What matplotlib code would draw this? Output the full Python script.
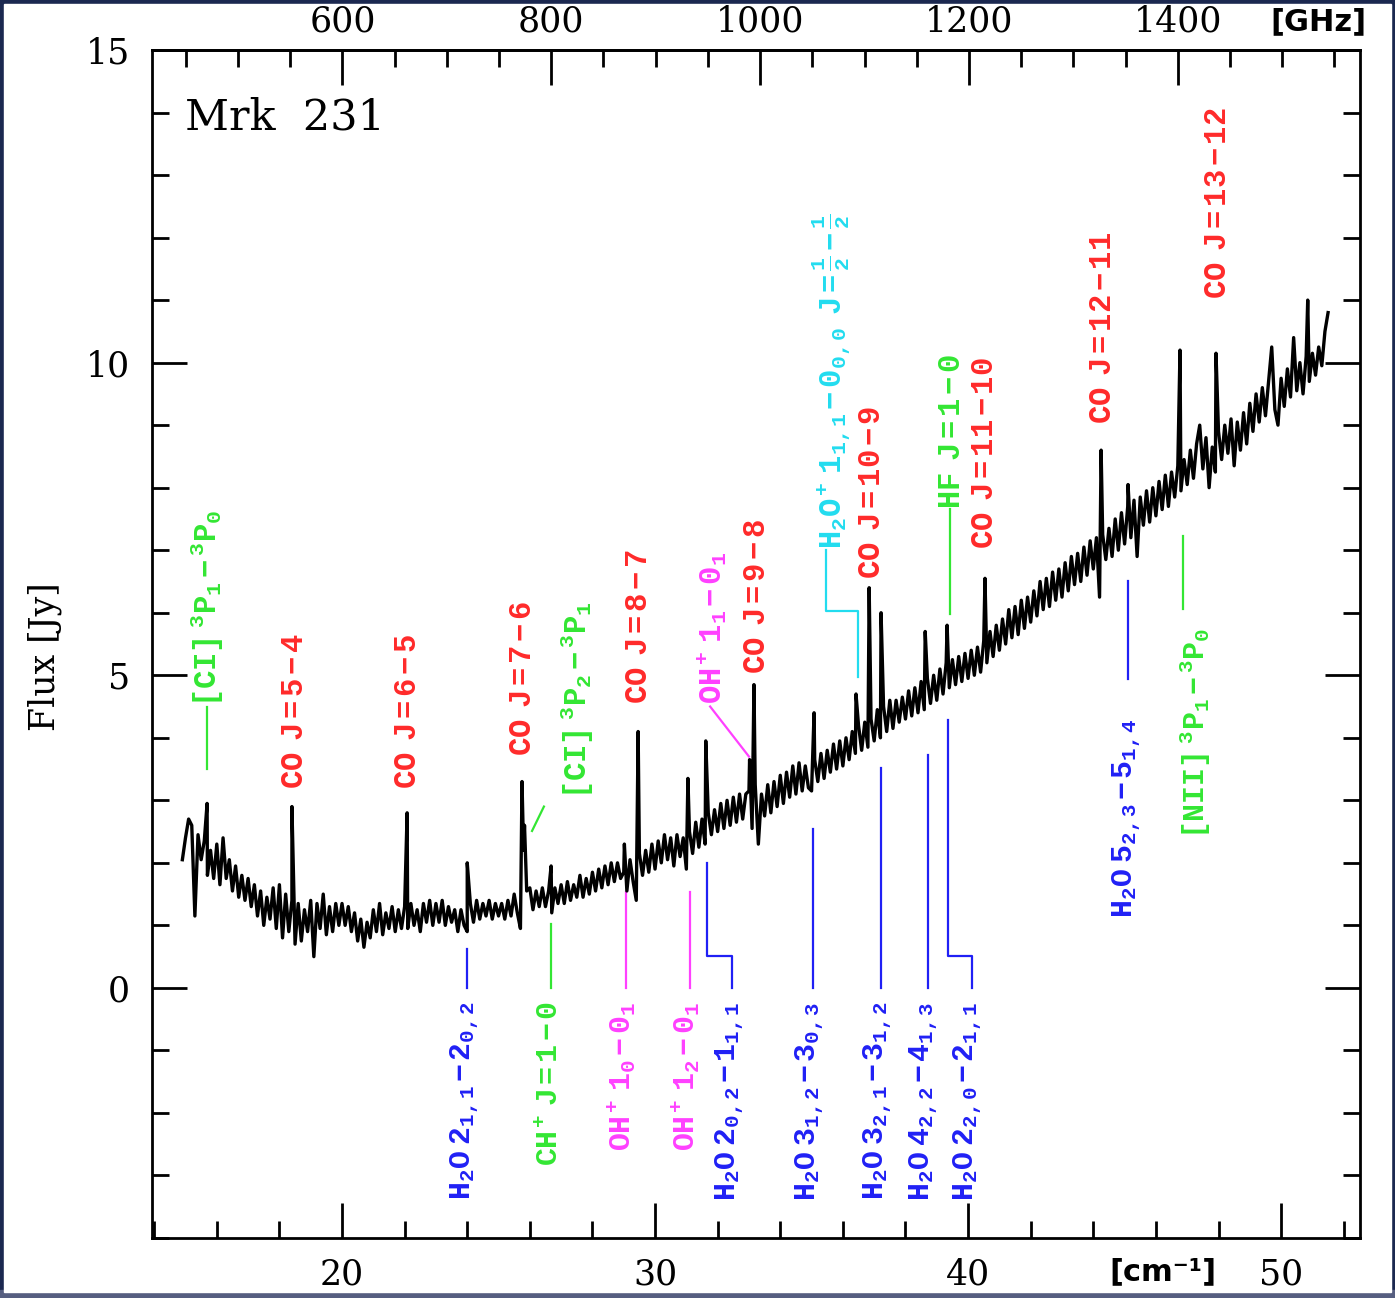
import numpy as np
import matplotlib
matplotlib.use("Agg")
import matplotlib.pyplot as plt
from matplotlib.patches import Rectangle
from matplotlib.ticker import MultipleLocator, FixedLocator

plt.rcParams["font.family"] = "DejaVu Serif"
plt.rcParams["mathtext.fontset"] = "custom"
plt.rcParams["mathtext.rm"] = "Liberation Mono:bold"
plt.rcParams["mathtext.it"] = "Liberation Mono:bold"
plt.rcParams["mathtext.bf"] = "Liberation Mono:bold"

# spectrum, Jy, one value every 0.1 cm^-1 from 14.9 cm^-1
flux_start, flux_step = 14.9, 0.1
flux = (
    [2.05]
    + [2.4, 2.7, 2.6, 1.15, 2.45, 2.05, 2.35, 1.8, 2.2, 1.75]
    + [2.3, 1.65, 2.4, 1.75, 2.05, 1.55, 1.95, 1.45, 1.8, 1.4]
    + [1.75, 1.3, 1.65, 1.15, 1.55, 1.0, 1.45, 1.1, 1.6, 0.95]
    + [1.65, 0.8, 1.5, 0.9, 1.4, 0.7, 1.35, 0.75, 1.25, 0.9]
    + [1.4, 0.5, 1.35, 0.95, 1.5, 0.85, 1.3, 0.9, 1.35, 1.0]
    + [1.35, 1.0, 1.3, 0.9, 1.2, 0.75, 1.1, 0.65, 1.05, 0.8]
    + [1.25, 0.9, 1.35, 0.85, 1.2, 0.95, 1.3, 0.9, 1.25, 0.95]
    + [1.3, 0.95, 1.35, 1.0, 1.25, 0.9, 1.35, 1.05, 1.4, 1.0]
    + [1.35, 1.05, 1.4, 1.0, 1.3, 1.05, 1.25, 0.9, 1.25, 1.0]
    + [0.9, 1.35, 1.05, 1.4, 1.1, 1.35, 1.15, 1.4, 1.1, 1.35]
    + [1.15, 1.35, 1.1, 1.4, 1.15, 1.5, 1.2, 0.95, 2.2, 1.55]
    + [1.6, 1.25, 1.55, 1.3, 1.6, 1.3, 1.55, 1.2, 1.6, 1.35]
    + [1.65, 1.35, 1.7, 1.4, 1.65, 1.45, 1.8, 1.45, 1.75, 1.5]
    + [1.85, 1.55, 1.9, 1.6, 1.95, 1.65, 2.0, 1.7, 2.0, 1.75]
    + [1.85, 1.55, 2.05, 1.7, 1.4, 2.15, 1.8, 2.2, 1.85, 2.3]
    + [1.9, 2.35, 2.0, 2.45, 2.05, 2.4, 1.95, 2.45, 2.1, 2.4]
    + [1.9, 2.5, 2.15, 2.65, 2.25, 2.7, 2.3, 2.8, 2.45, 2.85]
    + [2.5, 2.95, 2.55, 3.0, 2.6, 3.05, 2.65, 3.1, 2.7, 3.1]
    + [3.15, 2.55, 3.25, 2.3, 3.1, 2.75, 3.25, 2.8, 3.3, 2.9]
    + [3.4, 2.95, 3.45, 3.05, 3.55, 3.1, 3.6, 3.15, 3.55, 3.2]
    + [3.15, 3.65, 3.3, 3.75, 3.35, 3.8, 3.45, 3.9, 3.5, 3.95]
    + [3.55, 4.0, 3.65, 4.1, 3.75, 4.2, 3.8, 4.25, 3.85, 4.3]
    + [3.95, 4.45, 4.0, 4.5, 4.1, 4.6, 4.15, 4.6, 4.25, 4.65]
    + [4.3, 4.75, 4.35, 4.8, 4.4, 4.9, 4.45, 4.95, 4.55, 5.0]
    + [4.6, 5.1, 4.7, 5.2, 4.8, 5.25, 4.85, 5.3, 4.9, 5.35]
    + [4.95, 5.4, 5.0, 5.45, 5.05, 5.55, 5.2, 5.7, 5.3, 5.8]
    + [5.4, 5.9, 5.5, 6.05, 5.6, 6.1, 5.65, 6.2, 5.75, 6.25]
    + [5.85, 6.35, 5.95, 6.5, 6.05, 6.55, 6.1, 6.65, 6.2, 6.7]
    + [6.25, 6.8, 6.35, 6.9, 6.45, 6.95, 6.5, 7.05, 6.6, 7.15]
    + [6.7, 7.2, 6.25, 7.25, 6.85, 7.35, 6.9, 7.5, 7.0, 7.6]
    + [7.1, 7.7, 7.2, 7.8, 6.9, 7.85, 7.4, 7.95, 7.45, 8.0]
    + [7.55, 8.1, 7.65, 8.2, 7.7, 8.25, 7.85, 8.35, 7.95, 8.45]
    + [8.05, 8.6, 8.15, 8.7, 9.0, 8.3, 8.8, 8.0, 8.65, 8.25]
    + [8.9, 8.45, 9.0, 8.55, 9.1, 8.35, 9.05, 8.6, 9.2, 8.7]
    + [9.35, 8.9, 9.5, 9.05, 9.6, 9.15, 9.7, 10.25, 9.25, 9.0]
    + [9.75, 9.3, 9.9, 9.45, 10.4, 9.55, 10.0, 9.5, 10.1, 9.7]
    + [10.15, 9.8, 10.25, 9.95, 10.5, 10.8]
)

# narrow emission lines on top of the continuum
line_x = [15.69, 18.40, 22.08, 24.00, 25.75, 25.83, 26.68, 29.02, 29.46,
          31.05, 31.62, 33.02, 33.16, 35.08, 36.42, 36.84, 37.22, 38.63,
          39.33, 40.54, 44.25, 45.11, 46.77, 47.92, 50.85]
line_peak = [2.95, 2.9, 2.8, 2.0, 3.3, 2.6, 1.95, 2.3, 4.1,
             3.35, 3.95, 3.65, 4.85, 4.4, 4.7, 6.4, 6.0, 5.7,
             5.8, 6.55, 8.6, 8.05, 10.2, 10.15, 11.0]

RED, GREEN, BLUE = "#ff2a2a", "#33e633", "#2020f5"
MAGENTA, CYAN = "#ff40ff", "#22dcef"

# labels above the spectrum (text bottom at y)
upper_text = [
    r"$\mathrm{[CI]\ {}^3P_1-{}^3P_0}$",
    r"$\mathrm{CO\ \ J=5-4}$",
    r"$\mathrm{CO\ \ J=6-5}$",
    r"$\mathrm{CO\ \ J=7-6}$",
    r"$\mathrm{[CI]\ {}^3P_2-{}^3P_1}$",
    r"$\mathrm{CO\ \ J=8-7}$",
    r"$\mathrm{OH^+\ 1_1-0_1}$",
    r"$\mathrm{CO\ \ J=9-8}$",
    r"$\mathrm{H_2O^+\ 1_{1,1}-0_{0,0}\ \ J=\frac{1}{2}-\frac{1}{2}}$",
    r"$\mathrm{CO\ \ J=10-9}$",
    r"$\mathrm{HF\ \ J=1-0}$",
    r"$\mathrm{CO\ \ J=11-10}$",
    r"$\mathrm{CO\ \ J=12-11}$",
    r"$\mathrm{CO\ \ J=13-12}$",
]
upper_x = [15.69, 18.47, 22.10, 25.75, 27.50, 29.46, 31.82, 33.23, 35.60,
           36.93, 39.46, 40.54, 44.31, 47.96]
upper_y = [4.5, 3.18, 3.18, 3.71, 3.02, 4.54, 4.54, 5.02, 7.02,
           6.54, 7.66, 7.02, 9.02, 11.02]
upper_color = [GREEN, RED, RED, RED, GREEN, RED, MAGENTA, RED, CYAN,
               RED, GREEN, RED, RED, RED]

# labels below the spectrum (text top at y)
lower_text = [
    r"$\mathrm{H_2O\ 2_{1,1}-2_{0,2}}$",
    r"$\mathrm{CH^+\ J=1-0}$",
    r"$\mathrm{OH^+\ 1_0-0_1}$",
    r"$\mathrm{OH^+\ 1_2-0_1}$",
    r"$\mathrm{H_2O\ 2_{0,2}-1_{1,1}}$",
    r"$\mathrm{H_2O\ 3_{1,2}-3_{0,3}}$",
    r"$\mathrm{H_2O\ 3_{2,1}-3_{1,2}}$",
    r"$\mathrm{H_2O\ 4_{2,2}-4_{1,3}}$",
    r"$\mathrm{H_2O\ 2_{2,0}-2_{1,1}}$",
    r"$\mathrm{H_2O\ 5_{2,3}-5_{1,4}}$",
    r"$\mathrm{[NII]\ {}^3P_1-{}^3P_0}$",
]
lower_x = [23.95, 26.65, 28.95, 30.99, 32.40, 34.95, 37.12, 38.60, 40.00,
           45.08, 47.25]
lower_y = [-0.22, -0.22, -0.22, -0.22, -0.22, -0.22, -0.22, -0.22, -0.22,
           4.3, 5.75]
lower_color = [BLUE, GREEN, MAGENTA, MAGENTA, BLUE, BLUE, BLUE, BLUE, BLUE,
               BLUE, GREEN]

# marker lines tying labels to line positions
markers = [
    ([15.69, 15.69], [3.5, 4.5], GREEN),
    ([26.07, 26.45], [2.51, 2.9], GREEN),
    ([33.00, 31.76], [3.7, 4.5], MAGENTA),
    ([36.49, 36.49, 35.46, 35.46], [4.98, 6.02, 6.02, 7.0], CYAN),
    ([39.42, 39.42], [5.98, 7.66], GREEN),
    ([23.99, 23.99], [0.62, 0.0], BLUE),
    ([26.68, 26.68], [1.02, 0.0], GREEN),
    ([29.07, 29.07], [1.54, 0.0], MAGENTA),
    ([31.12, 31.12], [1.54, 0.0], MAGENTA),
    ([31.66, 31.66, 32.46, 32.46], [2.0, 0.51, 0.51, 0.0], BLUE),
    ([35.05, 35.05], [2.54, 0.0], BLUE),
    ([37.22, 37.22], [3.52, 0.0], BLUE),
    ([38.72, 38.72], [3.73, 0.0], BLUE),
    ([39.36, 39.36, 40.13, 40.13], [4.29, 0.51, 0.51, 0.0], BLUE),
    ([45.11, 45.11], [6.5, 4.94], BLUE),
    ([46.87, 46.87], [7.22, 6.06], GREEN),
]

GHZ_PER_CM = 29.979

fig = plt.figure(figsize=(13.95, 12.98), dpi=100, facecolor="#1b2850")
fig.patches.append(Rectangle((0, 0), 1, 8 / 1298, transform=fig.transFigure,
                             color="#565e80", zorder=-3))
fig.patches.append(Rectangle((4 / 1395, 6 / 1298), 1387 / 1395, 1288 / 1298,
                             transform=fig.transFigure, color="white", zorder=-2))

ax = fig.add_axes([152 / 1395, 60 / 1298, 1208 / 1395, 1188 / 1298])
ax.set_facecolor("none")

x = flux_start + flux_step * np.arange(len(flux))
xs = np.concatenate([x, line_x])
ys = np.concatenate([flux, line_peak])
order = np.argsort(xs, kind="stable")
ax.plot(xs[order], ys[order], color="black", lw=2.4, zorder=3)

for mx, my, c in markers:
    ax.plot(mx, my, color=c, lw=1.6, zorder=2)

for t, tx, ty, c in zip(upper_text, upper_x, upper_y, upper_color):
    ax.text(tx, ty, t, color=c, fontsize=22, rotation=90,
            ha="center", va="bottom")
for t, tx, ty, c in zip(lower_text, lower_x, lower_y, lower_color):
    ax.text(tx, ty, t, color=c, fontsize=21.5, rotation=90,
            ha="center", va="top")

ax.set_xlim(13.93, 52.52)
ax.set_ylim(-4, 15)
ax.xaxis.set_major_locator(FixedLocator([20, 30, 40, 50]))
ax.xaxis.set_minor_locator(MultipleLocator(2))
ax.yaxis.set_major_locator(FixedLocator([0, 5, 10, 15]))
ax.yaxis.set_minor_locator(MultipleLocator(1))
ax.tick_params(which="both", direction="in", top=False, right=True,
               width=2, labelsize=25)
ax.tick_params(which="major", length=25)
ax.tick_params(which="minor", length=12)
ax.tick_params(axis="x", pad=14)
ax.tick_params(axis="y", pad=16)
for s in ax.spines.values():
    s.set_linewidth(2)

sec = ax.secondary_xaxis("top", functions=(lambda v: v * GHZ_PER_CM,
                                           lambda f: f / GHZ_PER_CM))
sec.xaxis.set_major_locator(FixedLocator([600, 800, 1000, 1200, 1400]))
sec.xaxis.set_minor_locator(MultipleLocator(50))
sec.tick_params(which="both", direction="in", width=2, labelsize=25, pad=8)
sec.tick_params(which="major", length=25)
sec.tick_params(which="minor", length=12)
sec.spines["top"].set_linewidth(2)

ax.text(0.027, 0.9436, "Mrk  231", transform=ax.transAxes, fontsize=31,
        ha="left", va="center")
fig.text(45 / 1395, 1 - 657 / 1298, "Flux [Jy]", rotation=90, fontsize=25,
         ha="center", va="center")
fig.text(1318 / 1395, 1 - 22 / 1298, "[GHz]", fontsize=22, weight="bold",
         family="DejaVu Sans", ha="center", va="center")
fig.text(1163 / 1395, 1 - 1272 / 1298, "[cm⁻¹]", fontsize=22, weight="bold",
         family="DejaVu Sans", ha="center", va="center")

fig.savefig("out.png", dpi=100, facecolor=fig.get_facecolor())
